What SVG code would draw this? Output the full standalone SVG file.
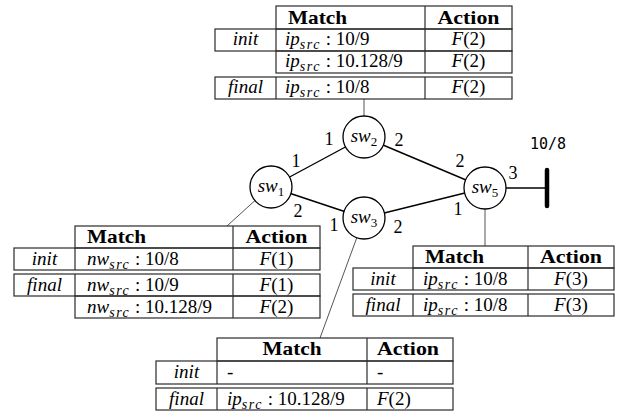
<svg xmlns="http://www.w3.org/2000/svg" width="621" height="412" viewBox="0 0 621 412">
<style>
.bg{fill:#fff}
.cell{fill:none;stroke:#2a2a2a;stroke-width:1.2}
.div{stroke:#2a2a2a;stroke-width:1.2}
.t{font-family:'Liberation Serif','Times New Roman',serif;font-size:19px;fill:#000}
.b{font-weight:bold}
.i{font-style:italic}
.sub{font-size:14px;font-style:italic;letter-spacing:1.5px}
.c{text-anchor:middle}
.edge{stroke:#000;stroke-width:1.4;fill:none}
.link{stroke:#555;stroke-width:1;fill:none}
.node{fill:#fff;stroke:#000;stroke-width:1.3}
.nl{font-family:'Liberation Serif','Times New Roman',serif;font-size:19px;text-anchor:middle;fill:#000}
.pl{font-family:'Liberation Serif','Times New Roman',serif;font-size:18px;text-anchor:middle;fill:#000}
.mono{font-family:'DejaVu Sans Mono','Liberation Mono',monospace;font-size:15px;fill:#000}
</style>
<rect class="bg" x="0" y="0" width="621" height="412"/>

<g id="connectors">
  <line class="edge" x1="271" y1="187" x2="364" y2="137"/>
  <line class="edge" x1="271" y1="187" x2="364" y2="218"/>
  <line class="edge" x1="364" y1="137" x2="485" y2="188"/>
  <line class="edge" x1="364" y1="218" x2="485" y2="188"/>
  <line class="edge" x1="506" y1="188" x2="547" y2="188"/>
  <line class="link" x1="364" y1="99" x2="364" y2="116"/>
  <line class="link" x1="255" y1="200.5" x2="227" y2="226"/>
  <line class="link" x1="356.8" y1="237.7" x2="320" y2="338"/>
  <line class="link" x1="485" y1="209" x2="485" y2="246"/>
  <text class="pl" x="329" y="145">1</text>
  <text class="pl" x="399" y="146">2</text>
  <text class="pl" x="296" y="167">1</text>
  <text class="pl" x="298" y="217">2</text>
  <text class="pl" x="334" y="231">1</text>
  <text class="pl" x="398" y="233">2</text>
  <text class="pl" x="460" y="167">2</text>
  <text class="pl" x="513" y="179">3</text>
  <text class="pl" x="458" y="215">1</text>
</g>

<g id="host">
  <line x1="547" y1="170" x2="547" y2="206" stroke="#000" stroke-width="4.5" stroke-linecap="round"/>
  <text class="mono" x="530" y="149">10/8</text>
</g>

<g id="sw1">
  <circle class="node" cx="271" cy="187" r="21"/>
  <text class="nl" x="271" y="192"><tspan font-style="italic">sw</tspan><tspan font-size="13" dy="4">1</tspan></text>
</g>
<g id="sw2">
  <circle class="node" cx="364" cy="137" r="21"/>
  <text class="nl" x="364" y="142"><tspan font-style="italic">sw</tspan><tspan font-size="13" dy="4">2</tspan></text>
</g>
<g id="sw3">
  <circle class="node" cx="364" cy="218" r="21"/>
  <text class="nl" x="364" y="223"><tspan font-style="italic">sw</tspan><tspan font-size="13" dy="4">3</tspan></text>
</g>
<g id="sw5">
  <circle class="node" cx="485" cy="188" r="21"/>
  <text class="nl" x="485" y="193"><tspan font-style="italic">sw</tspan><tspan font-size="13" dy="4">5</tspan></text>
</g>

<g id="table-sw2">
  <rect class="cell" x="276" y="6" width="236" height="23"/>
  <line class="div" x1="425" y1="6" x2="425" y2="29"/>
  <rect class="cell" x="215" y="29" width="297" height="22"/>
  <line class="div" x1="276" y1="29" x2="276" y2="51"/>
  <line class="div" x1="425" y1="29" x2="425" y2="51"/>
  <rect class="cell" x="276" y="51" width="236" height="22"/>
  <line class="div" x1="425" y1="51" x2="425" y2="73"/>
  <rect class="cell" x="215" y="77" width="297" height="22"/>
  <line class="div" x1="276" y1="77" x2="276" y2="99"/>
  <line class="div" x1="425" y1="77" x2="425" y2="99"/>
  <text class="t b" x="288" y="23.5" textLength="59" lengthAdjust="spacingAndGlyphs">Match</text>
  <text class="t b c" x="468.5" y="23.5" textLength="62" lengthAdjust="spacingAndGlyphs">Action</text>
  <text class="t i c" x="245.5" y="45">init</text>
  <text class="t" x="285" y="45"><tspan class="i">ip</tspan><tspan class="sub" dy="4">src</tspan><tspan dy="-4"> : 10/9</tspan></text>
  <text class="t c" x="468.5" y="45"><tspan class="i">F</tspan>(2)</text>
  <text class="t" x="285" y="67"><tspan class="i">ip</tspan><tspan class="sub" dy="4">src</tspan><tspan dy="-4"> : 10.128/9</tspan></text>
  <text class="t c" x="468.5" y="67"><tspan class="i">F</tspan>(2)</text>
  <text class="t i c" x="245.5" y="93">final</text>
  <text class="t" x="285" y="93"><tspan class="i">ip</tspan><tspan class="sub" dy="4">src</tspan><tspan dy="-4"> : 10/8</tspan></text>
  <text class="t c" x="468.5" y="93"><tspan class="i">F</tspan>(2)</text>
</g>

<g id="table-sw1">
  <rect class="cell" x="75" y="226" width="245" height="22"/>
  <line class="div" x1="233" y1="226" x2="233" y2="248"/>
  <rect class="cell" x="14" y="248" width="306" height="22"/>
  <line class="div" x1="75" y1="248" x2="75" y2="270"/>
  <line class="div" x1="233" y1="248" x2="233" y2="270"/>
  <rect class="cell" x="14" y="274" width="306" height="22"/>
  <line class="div" x1="75" y1="274" x2="75" y2="296"/>
  <line class="div" x1="233" y1="274" x2="233" y2="296"/>
  <rect class="cell" x="75" y="296" width="245" height="22"/>
  <line class="div" x1="233" y1="296" x2="233" y2="318"/>
  <text class="t b" x="87" y="243" textLength="59" lengthAdjust="spacingAndGlyphs">Match</text>
  <text class="t b c" x="276.5" y="243" textLength="62" lengthAdjust="spacingAndGlyphs">Action</text>
  <text class="t i c" x="44.5" y="265">init</text>
  <text class="t" x="87" y="265"><tspan class="i">nw</tspan><tspan class="sub" dy="4">src</tspan><tspan dy="-4"> : 10/8</tspan></text>
  <text class="t c" x="276.5" y="265"><tspan class="i">F</tspan>(1)</text>
  <text class="t i c" x="44.5" y="291">final</text>
  <text class="t" x="87" y="291"><tspan class="i">nw</tspan><tspan class="sub" dy="4">src</tspan><tspan dy="-4"> : 10/9</tspan></text>
  <text class="t c" x="276.5" y="291"><tspan class="i">F</tspan>(1)</text>
  <text class="t" x="87" y="313"><tspan class="i">nw</tspan><tspan class="sub" dy="4">src</tspan><tspan dy="-4"> : 10.128/9</tspan></text>
  <text class="t c" x="276.5" y="313"><tspan class="i">F</tspan>(2)</text>
</g>

<g id="table-sw5">
  <rect class="cell" x="413" y="246" width="201" height="22"/>
  <line class="div" x1="528" y1="246" x2="528" y2="268"/>
  <rect class="cell" x="353" y="268" width="261" height="22"/>
  <line class="div" x1="413" y1="268" x2="413" y2="290"/>
  <line class="div" x1="528" y1="268" x2="528" y2="290"/>
  <rect class="cell" x="353" y="294" width="261" height="22"/>
  <line class="div" x1="413" y1="294" x2="413" y2="316"/>
  <line class="div" x1="528" y1="294" x2="528" y2="316"/>
  <text class="t b" x="425" y="263" textLength="59" lengthAdjust="spacingAndGlyphs">Match</text>
  <text class="t b c" x="571" y="263" textLength="62" lengthAdjust="spacingAndGlyphs">Action</text>
  <text class="t i c" x="383" y="285">init</text>
  <text class="t" x="423" y="285"><tspan class="i">ip</tspan><tspan class="sub" dy="4">src</tspan><tspan dy="-4"> : 10/8</tspan></text>
  <text class="t c" x="571" y="285"><tspan class="i">F</tspan>(3)</text>
  <text class="t i c" x="383" y="311">final</text>
  <text class="t" x="423" y="311"><tspan class="i">ip</tspan><tspan class="sub" dy="4">src</tspan><tspan dy="-4"> : 10/8</tspan></text>
  <text class="t c" x="571" y="311"><tspan class="i">F</tspan>(3)</text>
</g>

<g id="table-sw3">
  <rect class="cell" x="217" y="338" width="236" height="23"/>
  <line class="div" x1="367" y1="338" x2="367" y2="361"/>
  <rect class="cell" x="156" y="361" width="297" height="23"/>
  <line class="div" x1="217" y1="361" x2="217" y2="384"/>
  <line class="div" x1="367" y1="361" x2="367" y2="384"/>
  <rect class="cell" x="156" y="388" width="297" height="22"/>
  <line class="div" x1="217" y1="388" x2="217" y2="410"/>
  <line class="div" x1="367" y1="388" x2="367" y2="410"/>
  <text class="t b c" x="292" y="355" textLength="59" lengthAdjust="spacingAndGlyphs">Match</text>
  <text class="t b" x="377" y="355" textLength="62" lengthAdjust="spacingAndGlyphs">Action</text>
  <text class="t i c" x="186.5" y="378">init</text>
  <text class="t" x="227" y="378">-</text>
  <text class="t" x="377" y="378">-</text>
  <text class="t i c" x="186.5" y="405">final</text>
  <text class="t" x="227" y="405"><tspan class="i">ip</tspan><tspan class="sub" dy="4">src</tspan><tspan dy="-4"> : 10.128/9</tspan></text>
  <text class="t" x="377" y="405"><tspan class="i">F</tspan>(2)</text>
</g>
</svg>
